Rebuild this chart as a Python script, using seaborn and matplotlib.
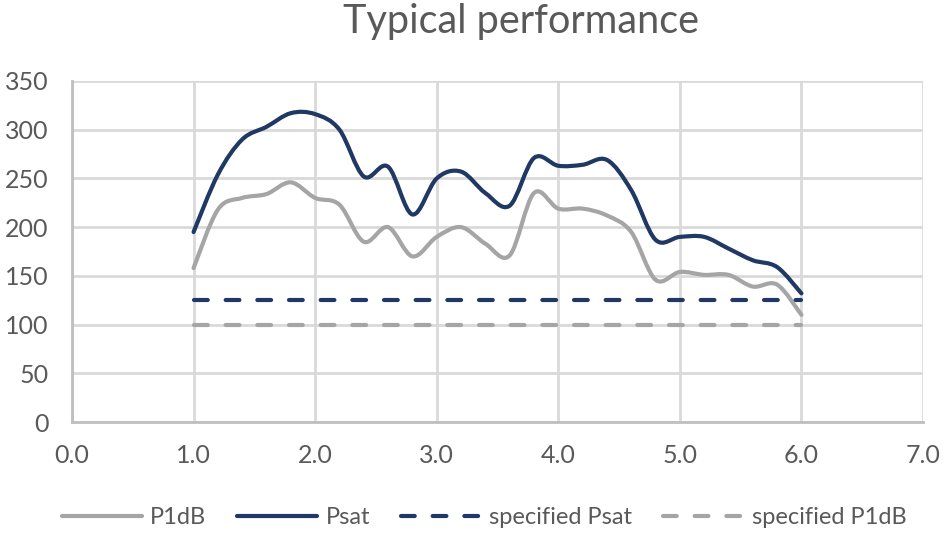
import numpy as np
import pandas as pd
import matplotlib
matplotlib.use("Agg")
import matplotlib.pyplot as plt
from matplotlib.path import Path
from matplotlib.patches import PathPatch
from matplotlib.lines import Line2D
import seaborn as sns

# Frequency points (every 0.2 from 1.0 to 6.0)
freq = [1.0, 1.2, 1.4, 1.6, 1.8, 2.0, 2.2, 2.4, 2.6, 2.8, 3.0, 3.2, 3.4,
        3.6, 3.8, 4.0, 4.2, 4.4, 4.6, 4.8, 5.0, 5.2, 5.4, 5.6, 5.8, 6.0]
p1db = [158, 218, 230, 234, 246, 230, 223, 185, 200, 170, 190, 200, 183,
        171, 235, 219, 219, 212, 195, 146, 154, 151, 151, 139, 141, 110]
psat = [195, 254, 290, 303, 317, 316, 300, 252, 262, 213, 250, 257, 235,
        222, 271, 263, 264, 269, 238, 187, 190, 190, 178, 166, 159, 132]
spec_freq = [1.0, 6.0]
spec_psat = [125, 125]
spec_p1db = [100, 100]

navy = "#203864"
gray = "#a5a5a5"
text_col = "#595959"


def smooth_path(xs, ys):
    # Excel-style smoothed line: cubic Bezier segments through the points
    pts = np.column_stack([xs, ys]).astype(float)
    n = len(pts)
    verts = [pts[0]]
    codes = [Path.MOVETO]
    for i in range(n - 1):
        p0 = pts[max(i - 1, 0)]
        p1 = pts[i]
        p2 = pts[i + 1]
        p3 = pts[min(i + 2, n - 1)]
        verts += [p1 + (p2 - p0) / 6, p2 - (p3 - p1) / 6, p2]
        codes += [Path.CURVE4] * 3
    return Path(verts, codes)


sns.set_theme(style="white")
plt.rcParams['font.family'] = ['Lato', 'DejaVu Sans']

fig = plt.figure(figsize=(9.52, 5.36), dpi=100)
ax = fig.add_axes([72 / 952, 1 - 422 / 536, (923 - 72) / 952, (422 - 81) / 536])

lw = 3.0
for ys, col in [(p1db, gray), (psat, navy)]:
    ax.add_patch(PathPatch(smooth_path(freq, ys), facecolor="none", edgecolor=col,
                           lw=lw, capstyle="round", joinstyle="round", zorder=3))

spec = pd.DataFrame({"freq": spec_freq * 2,
                     "value": spec_psat + spec_p1db,
                     "series": ["specified Psat"] * 2 + ["specified P1dB"] * 2})
sns.lineplot(data=spec, x="freq", y="value", hue="series",
             palette={"specified Psat": navy, "specified P1dB": gray},
             lw=lw, ax=ax, legend=False, zorder=4)
for line in ax.get_lines():
    line.set_dashes((3.3, 4.3))
    line.set_dash_capstyle("round")

ax.set_xlim(0, 7)
ax.set_ylim(0, 350)
ax.set_xticks(np.arange(0, 7.01, 1.0))
ax.set_xticklabels([f"{v:.1f}" for v in np.arange(0, 7.01, 1.0)])
ax.set_yticks(np.arange(0, 351, 50))
ax.grid(True, color="#d9d9d9", lw=2.0, zorder=0)
ax.set_axisbelow(True)
for s in ["top", "right"]:
    ax.spines[s].set_visible(False)
for s in ["left", "bottom"]:
    ax.spines[s].set_color("#bfbfbf")
    ax.spines[s].set_linewidth(2.0)
ax.tick_params(axis="x", length=0, pad=16, labelsize=18, labelcolor=text_col)
ax.tick_params(axis="y", length=0, pad=17, labelsize=18, labelcolor=text_col)
ax.set_xlabel("")
ax.set_ylabel("")

fig.text(521 / 952, 1 - 21 / 536, "Typical performance", ha="center", va="center",
         fontsize=28.5, color=text_col)

handles = [
    Line2D([], [], color=gray, lw=lw, solid_capstyle="round"),
    Line2D([], [], color=navy, lw=lw, solid_capstyle="round"),
    Line2D([], [], color=navy, lw=lw, dashes=(3.3, 4.3), dash_capstyle="round"),
    Line2D([], [], color=gray, lw=lw, dashes=(3.3, 4.3), dash_capstyle="round"),
]
labels = ["P1dB", "Psat", "specified Psat", "specified P1dB"]
leg = fig.legend(handles, labels, loc="center", bbox_to_anchor=(484 / 952, 1 - 518 / 536),
                 ncol=4, frameon=False, fontsize=17, handlelength=3.4,
                 handletextpad=0.35, columnspacing=1.3, labelcolor=text_col)

fig.savefig("out.png", dpi=100)
